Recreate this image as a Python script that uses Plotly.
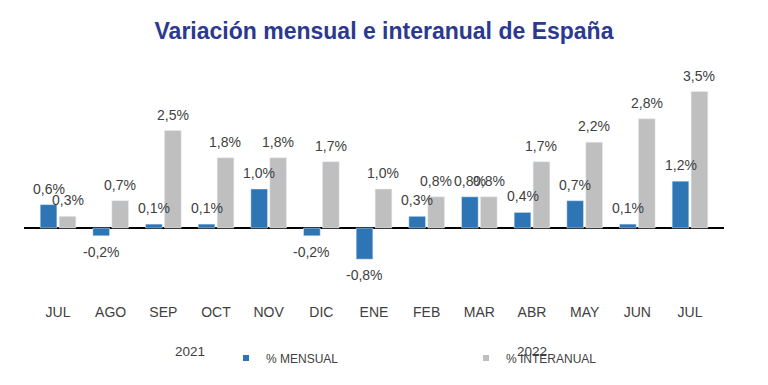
import plotly.graph_objects as go

months = ["JUL", "AGO", "SEP", "OCT", "NOV", "DIC", "ENE", "FEB", "MAR", "ABR", "MAY", "JUN", "JUL"]
years = ["2021", "2022"]
year_spans = [(0, 5), (6, 12)]
mensual = [0.6, -0.2, 0.1, 0.1, 1.0, -0.2, -0.8, 0.3, 0.8, 0.4, 0.7, 0.1, 1.2]
interanual = [0.3, 0.7, 2.5, 1.8, 1.8, 1.7, 1.0, 0.8, 0.8, 1.7, 2.2, 2.8, 3.5]

BLUE = "#2E75B6"
GRAY = "#BFBFBF"
TXT = "#404040"
FONT = "Liberation Sans, Arial, sans-serif"

xs = list(range(len(months)))

def fmt(v):
    return f"{v:.1f}".replace(".", ",") + "%"

fig = go.Figure()
fig.add_trace(go.Bar(x=xs, y=mensual, marker_color=BLUE, showlegend=False, name="% MENSUAL"))
fig.add_trace(go.Bar(x=xs, y=interanual, marker_color=GRAY, showlegend=False, name="% INTERANUAL"))
# legend entries
fig.add_trace(go.Scatter(x=[None], y=[None], mode="markers", name="% MENSUAL",
                         marker=dict(symbol="square", size=6, color=BLUE)))
fig.add_trace(go.Scatter(x=[None], y=[None], mode="markers", name="% INTERANUAL",
                         marker=dict(symbol="square", size=6, color=GRAY)))

off = 0.18
annotations = []
for i, (m, a) in enumerate(zip(mensual, interanual)):
    annotations.append(dict(x=i - off, y=m, xref="x", yref="y", text=fmt(m), showarrow=False,
                            yshift=16 if m >= 0 else -16, font=dict(size=14, color=TXT, family=FONT)))
    annotations.append(dict(x=i + off, y=a, xref="x", yref="y", text=fmt(a), showarrow=False,
                            yshift=16 if a >= 0 else -16, font=dict(size=14, color=TXT, family=FONT)))
for yr, (s, e) in zip(years, year_spans):
    annotations.append(dict(x=(s + e) / 2, y=-0.2125, xref="x", yref="paper", text=yr, showarrow=False,
                            yanchor="middle", font=dict(size=13.5, color=TXT, family=FONT)))

fig.update_layout(
    width=768, height=385,
    margin=dict(l=24, r=44, t=60, b=85),
    paper_bgcolor="white", plot_bgcolor="white",
    title=dict(text="<b>Variación mensual e interanual de España</b>", x=0.5, xanchor="center",
               y=1 - 31 / 385, yanchor="middle",
               font=dict(size=23, color="#2B3990", family=FONT)),
    barmode="group", bargap=0.28, bargroupgap=0.12,
    xaxis=dict(range=[-0.646, 12.646], tickvals=xs, ticktext=months, showgrid=False,
               showline=False, zeroline=False, ticks="", ticklabelstandoff=2,
               tickfont=dict(size=14, color=TXT, family=FONT)),
    yaxis=dict(range=[-1.846, 4.3077], showgrid=False, showticklabels=False, zeroline=True,
               zerolinecolor="black", zerolinewidth=2, showline=False),
    legend=dict(orientation="h", x=226 / 768, xanchor="left", y=1 - 358 / 385, yanchor="middle",
                yref="container", xref="container",
                font=dict(size=12, color=TXT, family=FONT), entrywidth=195, entrywidthmode="pixels"),
    annotations=annotations,
)

fig.write_html("out.html", config={"displayModeBar": False},
               post_script="document.body.style.margin='0px';")
